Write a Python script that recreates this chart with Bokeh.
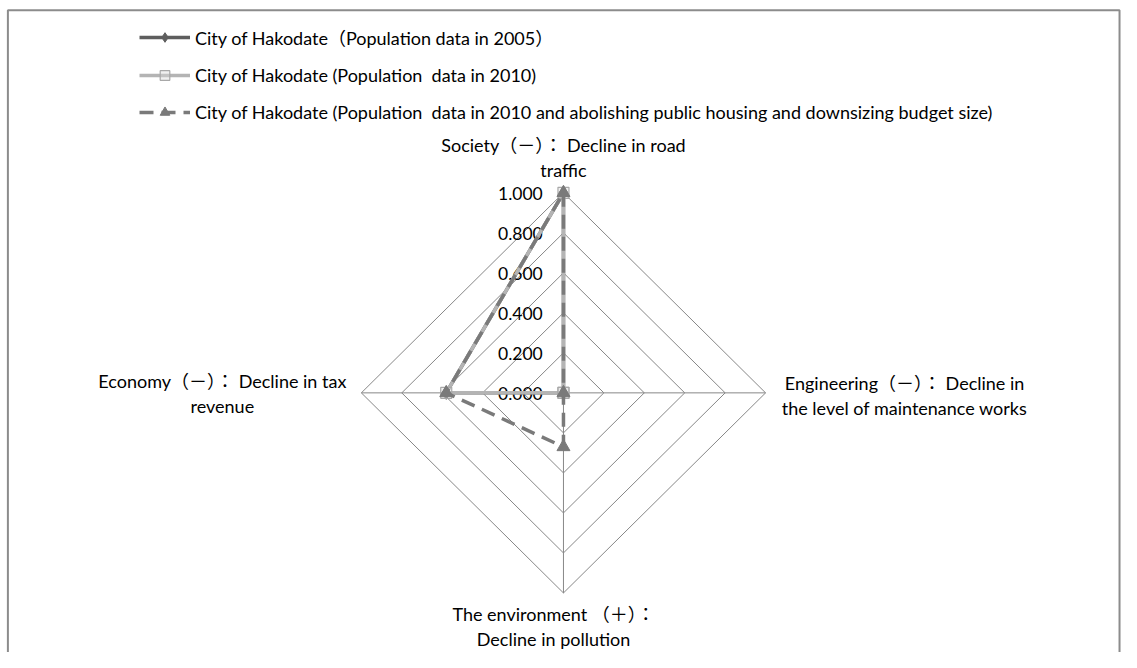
import numpy as np
from bokeh.plotting import figure
from bokeh.models import Range1d, Legend, LegendItem
from bokeh.core.properties import value
from bokeh.embed import file_html
from bokeh.resources import INLINE

# ---------------- data ----------------
axis_labels = [
    "Society（－）： Decline in road\ntraffic",
    "Engineering（－）： Decline in\nthe level of maintenance works",
    "The environment （＋）：\nDecline in pollution",
    "Economy（－）： Decline in tax\nrevenue",
]
series_names = [
    "City of Hakodate（Population data in 2005）",
    "City of Hakodate (Population  data in 2010)",
    "City of Hakodate (Population  data in 2010 and abolishing public housing and downsizing budget size)",
]
values_2005 = [1.000, 0.000, 0.000, 0.580]
values_2010 = [1.000, 0.000, 0.000, 0.580]
values_2010_abolish = [1.000, 0.000, 0.270, 0.580]
tick_values = [0.0, 0.2, 0.4, 0.6, 0.8, 1.0]
tick_labels = ["0.000", "0.200", "0.400", "0.600", "0.800", "1.000"]

# ---------------- layout ----------------
W, H = 1121, 652
SX, SY = W / 1137.0, H / 668.0      # fit the 1137x668 design into the page
CX, CY = 571 * SX, 402 * SY         # centre of radar, canvas px
RX, RY = 205 * SX, 205 * SY         # px per unit of value
FONT_NAME = "Lato, 'Noto Sans CJK JP', sans-serif"
FONT = value(FONT_NAME)
FS = "18px"

p = figure(width=W, height=H, output_backend="svg", toolbar_location=None,
           x_axis_type=None, y_axis_type=None, min_border=0,
           x_range=Range1d(-CX / RX, (W - CX) / RX),
           y_range=Range1d(-(H - CY) / RY, CY / RY))
p.grid.visible = False
p.outline_line_color = None
p.background_fill_color = "white"
p.border_fill_color = "white"

def px(x):
    return (x * SX - CX) / RX

def py(y):
    return (CY - y * SY) / RY

# chart border (open at bottom, which runs off the page)
p.line([px(7.5), px(7.5), px(1135), px(1135)],
       [py(700), py(10), py(10), py(700)], line_color="#8c8c8c", line_width=2)

n = len(axis_labels)
angles = [np.pi / 2 - 2 * np.pi * i / n for i in range(n)]
ux = np.round(np.cos(angles), 12)
uy = np.round(np.sin(angles), 12)

# grid diamonds
grid_xs, grid_ys = [], []
for r in tick_values[1:]:
    grid_xs.append(list(r * ux) + [r * ux[0]])
    grid_ys.append(list(r * uy) + [r * uy[0]])
# spokes
for i in range(n):
    grid_xs.append([0, ux[i]])
    grid_ys.append([0, uy[i]])
p.multi_line(grid_xs, grid_ys, line_color="#878787", line_width=1)

# tick labels
p.text(x=[0] * len(tick_values), y=tick_values, text=tick_labels,
       text_font=FONT, text_font_size="17.5px", text_color="#000000",
       text_align="right", text_baseline="middle", x_offset=-20.7, y_offset=1)

# axis labels
label_dx = [0, 139, -9.9, -139]
label_dy = [-35.6, 2.4, 33.7, 0.5]
p.text(x=list(ux), y=list(uy), text=axis_labels, x_offset=label_dx, y_offset=label_dy,
       text_font=FONT, text_font_size=FS, text_color="#000000",
       text_align="center", text_baseline="middle", text_line_height=1.13)

def closed(vals):
    xs = [v * a for v, a in zip(vals, ux)]
    ys = [v * b for v, b in zip(vals, uy)]
    return xs + [xs[0]], ys + [ys[0]]

items = []
# 2005
xs, ys = closed(values_2005)
l1 = p.line(xs, ys, line_color="#5e5e5e", line_width=3.5)
m1 = p.scatter(xs[:-1], ys[:-1], marker="diamond", size=13, fill_color="#5e5e5e",
               line_color="#5e5e5e")
items.append(LegendItem(label=series_names[0], renderers=[l1, m1]))
# 2010
xs, ys = closed(values_2010)
l2 = p.line(xs, ys, line_color="#b4b4b4", line_width=3.5)
m2 = p.scatter(xs[:-1], ys[:-1], marker="square", size=11, fill_color="#d9d9d9",
               fill_alpha=0.4, line_color="#a8a8a8", line_width=1.2)
items.append(LegendItem(label=series_names[1], renderers=[l2, m2]))
# 2010 abolishing
xs, ys = closed(values_2010_abolish)
l3 = p.line(xs, ys, line_color="#7a7a7a", line_width=3.5, line_dash="14 8")
m3 = p.scatter(xs[:-1], ys[:-1], marker="triangle", size=13, fill_color="#7a7a7a",
               line_color="#7a7a7a")
items.append(LegendItem(label=series_names[2], renderers=[l3, m3]))

legend = Legend(items=items, location=(139, H - 124), orientation="vertical",
                glyph_width=51, glyph_height=24, label_height=24, label_standoff=5,
                spacing=13, padding=0, margin=0, border_line_color=None,
                background_fill_alpha=0, label_text_font=FONT_NAME,
                label_text_font_size=FS, label_text_color="#000000",
                label_text_baseline="middle")
p.add_layout(legend, "center")

open("out.html", "w").write(file_html(p, INLINE))
